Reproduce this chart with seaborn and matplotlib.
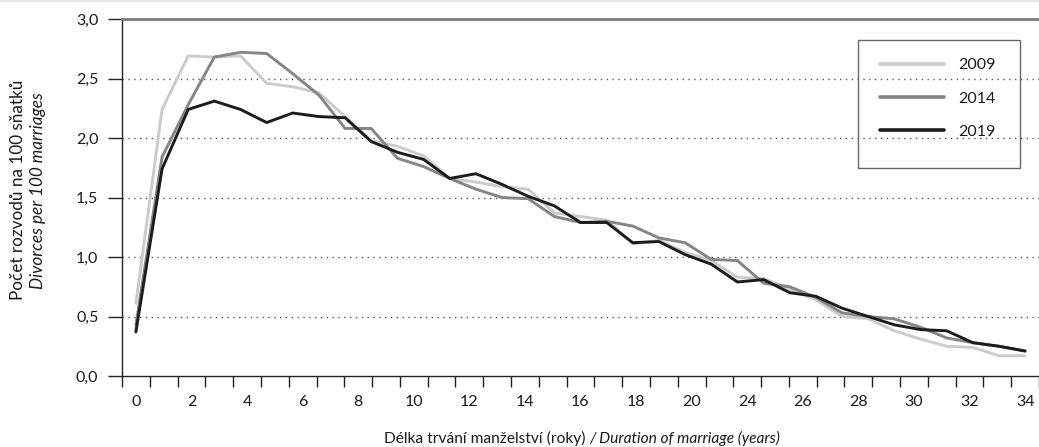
import numpy as np
import pandas as pd
import matplotlib
matplotlib.use("Agg")
import matplotlib.pyplot as plt
from matplotlib.lines import Line2D
from matplotlib.patches import Rectangle
import seaborn as sns

# duration of marriage (years) and divorce rates per 100 marriages
duration = list(range(0, 35))
rate_2009 = [0.61, 2.24, 2.69, 2.68, 2.69, 2.46, 2.43, 2.38, 2.18, 1.98,
             1.93, 1.85, 1.66, 1.63, 1.59, 1.57, 1.37, 1.34, 1.31, 1.11,
             1.14, 1.04, 0.97, 0.83, 0.82, 0.73, 0.64, 0.50, 0.48, 0.38,
             0.31, 0.25, 0.24, 0.17, 0.17]
rate_2014 = [0.43, 1.84, 2.28, 2.68, 2.72, 2.71, 2.54, 2.36, 2.08, 2.08,
             1.83, 1.76, 1.66, 1.57, 1.50, 1.49, 1.34, 1.29, 1.30, 1.26,
             1.16, 1.12, 0.98, 0.97, 0.78, 0.75, 0.66, 0.53, 0.50, 0.48,
             0.41, 0.32, 0.28, 0.25, 0.21]
rate_2019 = [0.37, 1.74, 2.24, 2.31, 2.24, 2.13, 2.21, 2.18, 2.17, 1.97,
             1.88, 1.82, 1.66, 1.70, 1.61, 1.51, 1.43, 1.29, 1.29, 1.12,
             1.13, 1.02, 0.94, 0.79, 0.81, 0.70, 0.67, 0.57, 0.50, 0.43,
             0.39, 0.38, 0.28, 0.25, 0.21]
years = ["2009", "2014", "2019"]
colors = ["#cbcbcb", "#858585", "#1c1c1c"]

x_labels = ["0", "2", "4", "6", "8", "10", "12", "14", "16", "18", "20",
            "24", "26", "28", "30", "32", "34"]
y_ticks = [0.0, 0.5, 1.0, 1.5, 2.0, 2.5, 3.0]
y_labels = ["0,0", "0,5", "1,0", "1,5", "2,0", "2,5", "3,0"]

df = pd.DataFrame({
    "duration": duration * 3,
    "rate": rate_2009 + rate_2014 + rate_2019,
    "year": [y for y in years for _ in duration],
})

sns.set_style("white")
plt.rcParams["font.family"] = ["Lato", "DejaVu Sans"]
fs = 11.5

fig = plt.figure(figsize=(10.39, 4.47), dpi=100)
ax = fig.add_axes([122 / 1039, 1 - 376 / 447, 1 - 122 / 1039, 357 / 447])

sns.lineplot(data=df, x="duration", y="rate", hue="year", palette=colors,
             linewidth=2.1, ax=ax, legend=False)

# category axis: 33 slots, labelled every other slot
n_cat = len(x_labels) * 2 - 1
w = (len(duration) - 1) / (n_cat - 1)
bounds = [(i - 0.5) * w for i in range(n_cat + 1)]
centers = [2 * k * w for k in range(len(x_labels))]

ax.set_xlim(-0.5 * w, 34.3)
ax.set_ylim(0, 3.0)
ax.set_xticks(bounds)
ax.set_xticklabels([])
ax.set_xticks(centers, minor=True)
ax.set_xticklabels(x_labels, minor=True)
ax.tick_params(axis="x", which="major", direction="out", length=8, width=1,
               color="#222222", bottom=True)
ax.tick_params(axis="x", which="minor", length=0, pad=14, labelsize=fs,
               labelcolor="#1a1a1a")
ax.set_yticks(y_ticks)
ax.set_yticklabels(y_labels)
ax.tick_params(axis="y", direction="out", length=10, width=1, color="#222222",
               left=True, pad=7, labelsize=fs, labelcolor="#1a1a1a")

for v in y_ticks[1:-1]:
    ax.axhline(v, color="#555555", lw=1, ls=(0, (1, 3.2)), zorder=0)

for s in ["left", "bottom"]:
    ax.spines[s].set_color("#222222")
    ax.spines[s].set_linewidth(1)
ax.spines["top"].set_color("#7a7a7a")
ax.spines["top"].set_linewidth(2)
ax.spines["right"].set_visible(False)

ax.set_xlabel("")
ax.set_ylabel("")

# legend with a hand drawn frame (more room at the bottom)
handles = [Line2D([0], [0], color=c, lw=2.6) for c in colors]
leg = ax.legend(handles, years, loc="upper left",
                bbox_to_anchor=((880 - 122) / 917, (376 - 58) / 357),
                borderaxespad=0, frameon=False,
                handlelength=4.0, handletextpad=0.9, labelspacing=1.2,
                borderpad=0.0, fontsize=fs)
for t in leg.get_texts():
    t.set_color("#1a1a1a")
fig.add_artist(Rectangle((858 / 1039, 1 - 168 / 447), 162 / 1039, 128 / 447,
                         transform=fig.transFigure, fill=False,
                         edgecolor="#666666", lw=1))

# axis titles, mixing regular and italic text
fig.text(18 / 1039, 1 - 190 / 447, "Počet rozvodů na 100 sňatků",
         rotation=90, ha="center", va="center", fontsize=12.3, color="#1a1a1a")
fig.text(38 / 1039, 1 - 191 / 447, "Divorces per 100 marriages",
         rotation=90, ha="center", va="center", fontsize=12.3,
         style="italic", color="#1a1a1a")
fig.text(586 / 1039, 1 - 438 / 447, "Délka trvání manželství (roky)",
         ha="right", va="center", fontsize=11.2, color="#1a1a1a")
fig.text(589 / 1039, 1 - 438 / 447, "/ Duration of marriage (years)",
         ha="left", va="center", fontsize=11.2, style="italic",
         color="#1a1a1a")

fig.add_artist(Line2D([0, 1], [0.998, 0.998], color="#e6e6e6", lw=1.5))

fig.savefig("out.png", dpi=100)
